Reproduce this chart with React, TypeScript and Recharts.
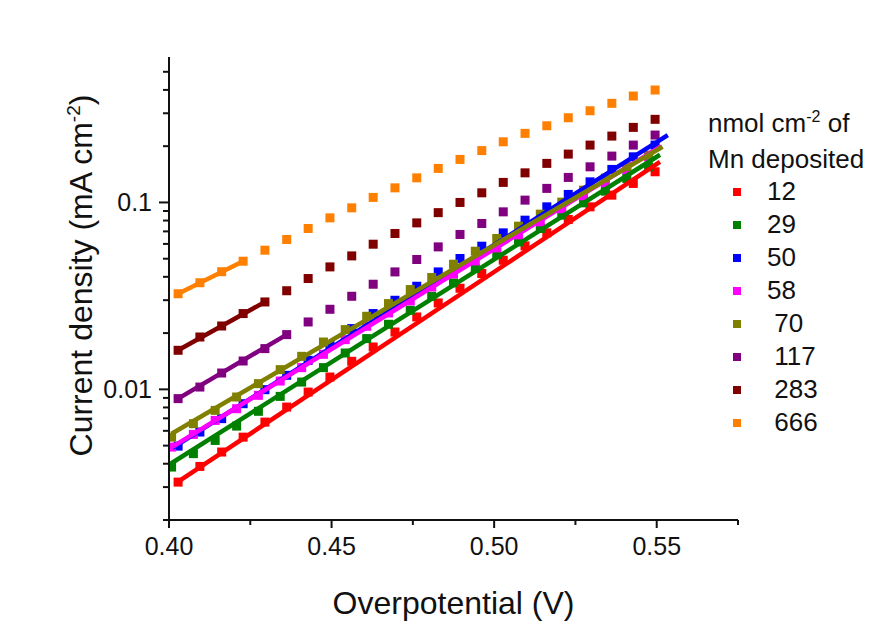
import React from 'react';
import { ComposedChart, Scatter, Line, XAxis, YAxis, Legend, Label } from 'recharts';

const FONT = '"Liberation Sans", Arial, sans-serif';
const INK = '#111';

// overpotential of each sample (two slightly shifted sweeps)
const VOLT_A = [0.4028, 0.4095, 0.4162, 0.4228, 0.4295, 0.4362, 0.4428, 0.4495, 0.4562, 0.4628, 0.4695, 0.4762,
    0.4828, 0.4895, 0.4962, 0.5028, 0.5095, 0.5162, 0.5228, 0.5295, 0.5362, 0.5428, 0.5495];
const VOLT_B = [0.4008, 0.4075, 0.4142, 0.4208, 0.4275, 0.4342, 0.4408, 0.4475, 0.4542, 0.4608, 0.4675, 0.4742,
    0.4808, 0.4875, 0.4942, 0.5008, 0.5075, 0.5142, 0.5208, 0.5275, 0.5342, 0.5408, 0.5475];

// current density (mA cm-2), one array per Mn loading
const J_12 = [0.00319, 0.00387, 0.00462, 0.00555, 0.00668, 0.00804, 0.00967, 0.01164, 0.01413, 0.01685, 0.02027,
    0.0244, 0.02899, 0.03475, 0.04166, 0.04909, 0.05855, 0.06874, 0.08107, 0.09472, 0.1094, 0.1264, 0.1459];
const J_29 = [0.00384, 0.00453, 0.00533, 0.00636, 0.00763, 0.00917, 0.01094, 0.01307, 0.01565, 0.01869, 0.02229,
    0.02649, 0.03148, 0.0371, 0.0443, 0.05267, 0.06152, 0.07256, 0.08551, 0.09951, 0.1149, 0.1344, 0.1551];
const J_50 = [0.00497, 0.00591, 0.00697, 0.00838, 0.00996, 0.01189, 0.0143, 0.01721, 0.02114, 0.02544, 0.02997,
    0.03562, 0.04249, 0.05013, 0.05833, 0.06874, 0.08039, 0.09472, 0.1104, 0.1289, 0.1502, 0.1754, 0.2027];
const J_58 = [0.00491, 0.00574, 0.00682, 0.00788, 0.00929, 0.01108, 0.01307, 0.0154, 0.01845, 0.02175, 0.02563,
    0.02972, 0.03531, 0.04146, 0.04866, 0.05712, 0.06706, 0.07872, 0.09241, 0.1085, 0.1274, 0.1495, 0.1754];
const J_70 = [0.00555, 0.00655, 0.00772, 0.0091, 0.01073, 0.01275, 0.01502, 0.01792, 0.02088, 0.0246, 0.02877,
    0.0342, 0.03966, 0.04672, 0.05485, 0.06415, 0.07466, 0.08658, 0.1004, 0.1164, 0.1349, 0.1555, 0.1792];
const J_117 = [0.00892, 0.01029, 0.01223, 0.01418, 0.01652, 0.01963, 0.02294, 0.02682, 0.03148, 0.03651, 0.04249,
    0.04951, 0.05784, 0.06739, 0.07718, 0.08906, 0.1029, 0.1189, 0.1361, 0.1551, 0.177, 0.2027, 0.2294];
const J_283 = [0.01618, 0.01906, 0.02183, 0.02544, 0.02935, 0.0337, 0.03917, 0.0452, 0.05176, 0.05978, 0.06823,
    0.07775, 0.08819, 0.1, 0.1126, 0.128, 0.144, 0.1618, 0.1814, 0.2027, 0.2265, 0.2521, 0.2784];
const J_666 = [0.03247, 0.03719, 0.0426, 0.04849, 0.05553, 0.06336, 0.07256, 0.08271, 0.09357, 0.1064, 0.1197,
    0.1354, 0.1521, 0.1699, 0.1894, 0.2111, 0.2342, 0.2572, 0.2839, 0.3094, 0.3391, 0.371, 0.3995];

// Tafel fit segments: [start, end]
const FIT_12_V = [0.4025, 0.551];
const FIT_12_J = [0.00318, 0.165];
const FIT_29_V = [0.4005, 0.551];
const FIT_29_J = [0.004, 0.18];
const FIT_50_V = [0.401, 0.5534];
const FIT_50_J = [0.00485, 0.229];
const FIT_58_V = [0.4008, 0.5514];
const FIT_58_J = [0.00489, 0.2];
const FIT_70_V = [0.4008, 0.5518];
const FIT_70_J = [0.00579, 0.1985];
const FIT_117_V = [0.4028, 0.4362];
const FIT_117_J = [0.00892, 0.01963];
const FIT_283_V = [0.4028, 0.4295];
const FIT_283_J = [0.01618, 0.02935];
const FIT_666_V = [0.4028, 0.4228];
const FIT_666_J = [0.03247, 0.04849];

const LEGEND_LABELS = ['12', '29', '50', '58', ' 70', ' 117', ' 283', ' 666'];
const COLORS = ['#ff0000', '#008000', '#0000ff', '#ff00ff', '#808000', '#800080', '#800000', '#ff8000'];

const X_TICKS = [0.4, 0.425, 0.45, 0.475, 0.5, 0.525, 0.55, 0.575];
const Y_TICKS = [0.002, 0.003, 0.004, 0.005, 0.006, 0.007, 0.008, 0.009, 0.01, 0.02, 0.03, 0.04, 0.05, 0.06,
    0.07, 0.08, 0.09, 0.1, 0.2, 0.3, 0.4, 0.5];

const zip = (xs: number[], ys: number[]) => xs.map((x, i) => ({ x, y: ys[i] }));

const SERIES = [
    { label: LEGEND_LABELS[0], color: COLORS[0], points: zip(VOLT_A, J_12), fit: zip(FIT_12_V, FIT_12_J) },
    { label: LEGEND_LABELS[1], color: COLORS[1], points: zip(VOLT_B, J_29), fit: zip(FIT_29_V, FIT_29_J) },
    { label: LEGEND_LABELS[2], color: COLORS[2], points: zip(VOLT_A, J_50), fit: zip(FIT_50_V, FIT_50_J) },
    { label: LEGEND_LABELS[3], color: COLORS[3], points: zip(VOLT_B, J_58), fit: zip(FIT_58_V, FIT_58_J) },
    { label: LEGEND_LABELS[4], color: COLORS[4], points: zip(VOLT_B, J_70), fit: zip(FIT_70_V, FIT_70_J) },
    { label: LEGEND_LABELS[5], color: COLORS[5], points: zip(VOLT_A, J_117), fit: zip(FIT_117_V, FIT_117_J) },
    { label: LEGEND_LABELS[6], color: COLORS[6], points: zip(VOLT_A, J_283), fit: zip(FIT_283_V, FIT_283_J) },
    { label: LEGEND_LABELS[7], color: COLORS[7], points: zip(VOLT_A, J_666), fit: zip(FIT_666_V, FIT_666_J) },
];

const isDecade = (v: number) => Math.abs(Math.log10(v) - Math.round(Math.log10(v))) < 1e-6;
const isMajorX = (v: number) => Math.round(v * 1000) % 50 === 0;

function XTick(props: any) {
    const { x, y, payload } = props;
    const major = isMajorX(payload.value);
    return (
        <g>
            <line x1={x} x2={x} y1={y} y2={y + (major ? 8 : 5)} stroke={INK} strokeWidth={2} />
            {major && (
                <text x={x} y={y + 35} textAnchor="middle" fontFamily={FONT} fontSize={25} fill={INK}>
                    {payload.value.toFixed(2)}
                </text>
            )}
        </g>
    );
}

function YTick(props: any) {
    const { x, y, payload } = props;
    const major = isDecade(payload.value);
    return (
        <g>
            <line x1={x} x2={x - (major ? 10 : 6)} y1={y} y2={y} stroke={INK} strokeWidth={2} />
            {major && (
                <text x={x - 17} y={y + 9} textAnchor="end" fontFamily={FONT} fontSize={25} fill={INK}>
                    {String(payload.value)}
                </text>
            )}
        </g>
    );
}

function XTitle(props: any) {
    const vb = props.viewBox;
    return (
        <text x={vb.x + vb.width / 2} y={vb.y + 94} textAnchor="middle" fontFamily={FONT} fontSize={32} fill={INK}>
            Overpotential (V)
        </text>
    );
}

function YTitle(props: any) {
    const vb = props.viewBox;
    const cx = 92;
    const cy = vb.y + vb.height / 2 - 13;
    return (
        <text x={cx} y={cy} transform={`rotate(-90 ${cx} ${cy})`} textAnchor="middle" fontFamily={FONT} fontSize={32} fill={INK}>
            <tspan>Current density (mA cm</tspan>
            <tspan dy={-12} fontSize={19}>-2</tspan>
            <tspan dy={12}>)</tspan>
        </text>
    );
}

function LoadingLegend() {
    return (
        <div style={{ fontFamily: FONT, fontSize: 26, color: INK, lineHeight: '32px' }}>
            <div style={{ whiteSpace: 'pre' }}>
                nmol cm<span style={{ fontSize: 16, position: 'relative', top: -10 }}>-2</span> of
            </div>
            <div>Mn deposited</div>
            {SERIES.map((s) => (
                <div key={s.label} style={{ height: 33, display: 'flex', alignItems: 'center' }}>
                    <span style={{ width: 8, height: 8, background: s.color, marginLeft: 25, marginRight: 26 }} />
                    <span style={{ whiteSpace: 'pre', lineHeight: '33px' }}>{s.label}</span>
                </div>
            ))}
        </div>
    );
}

export default function App() {
    return (
        <div style={{ position: 'absolute', left: 0, top: 0, width: 896, height: 637, background: '#fff' }}>
            <ComposedChart width={896} height={637} margin={{ top: 57, right: 158, bottom: 0, left: 0 }}>
                <XAxis
                    dataKey="x"
                    type="number"
                    domain={[0.4, 0.575]}
                    allowDataOverflow
                    ticks={X_TICKS}
                    interval={0}
                    height={117}
                    tickSize={0}
                    tickMargin={0}
                    tickLine={false}
                    axisLine={{ stroke: INK, strokeWidth: 2 }}
                    tick={(p: any) => <XTick {...p} />}
                >
                    <Label content={(p: any) => <XTitle {...p} />} />
                </XAxis>
                <YAxis
                    dataKey="y"
                    type="number"
                    scale="log"
                    domain={[0.002, 0.6]}
                    allowDataOverflow
                    ticks={Y_TICKS}
                    interval={0}
                    width={169}
                    tickSize={0}
                    tickMargin={0}
                    tickLine={false}
                    axisLine={{ stroke: INK, strokeWidth: 2 }}
                    tick={(p: any) => <YTick {...p} />}
                >
                    <Label content={(p: any) => <YTitle {...p} />} />
                </YAxis>
                <Legend
                    layout="vertical"
                    align="center"
                    verticalAlign="middle"
                    content={() => <LoadingLegend />}
                    wrapperStyle={{ left: 708, top: 107, width: 185 }}
                />
                {SERIES.map((s) => (
                    <Scatter
                        key={'pts' + s.label}
                        name={s.label}
                        data={s.points}
                        fill={s.color}
                        isAnimationActive={false}
                        zIndex={350}
                        shape={(p: any) => <rect x={p.cx - 4.5} y={p.cy - 4.5} width={9} height={9} fill={s.color} />}
                    />
                ))}
                {SERIES.map((s) => (
                    <Line
                        key={'fit' + s.label}
                        data={s.fit}
                        dataKey="y"
                        type="linear"
                        stroke={s.color}
                        strokeWidth={4.5}
                        dot={false}
                        activeDot={false}
                        legendType="none"
                        isAnimationActive={false}
                        zIndex={450}
                    />
                ))}
            </ComposedChart>
        </div>
    );
}
